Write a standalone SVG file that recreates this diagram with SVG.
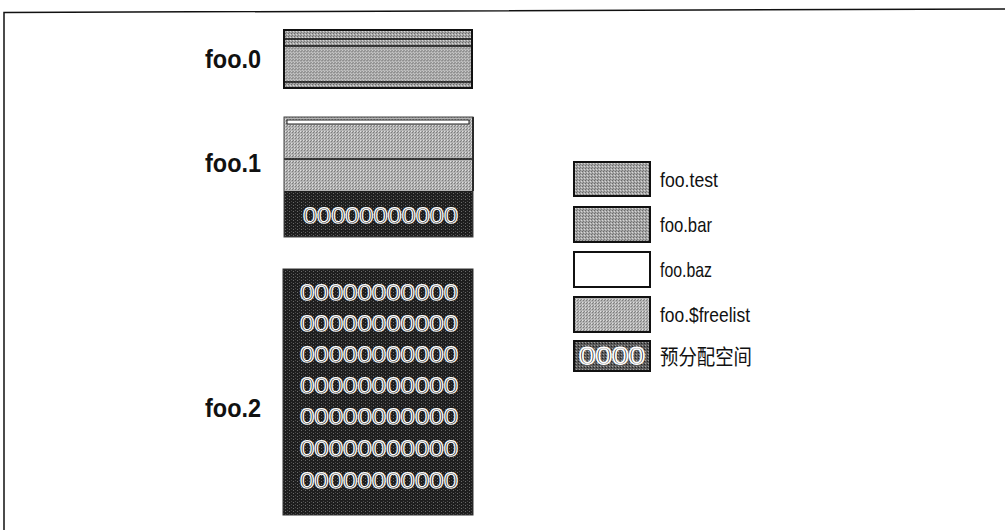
<svg xmlns="http://www.w3.org/2000/svg" width="1005" height="530" viewBox="0 0 1005 530">
<style>
.lbl{font-family:"Liberation Sans",Arial,sans-serif;font-weight:bold;font-size:25px;fill:#111}
.leg{font-family:"Liberation Sans","Noto Sans CJK SC",sans-serif;font-size:21px;fill:#111}
.zeros{font-family:"Liberation Sans",Arial,sans-serif;font-size:22px;fill:#1e1e1e;stroke:#ffffff;stroke-width:1.1;text-rendering:geometricPrecision}
.sep{stroke:#111;stroke-width:1.6}
.box{stroke:#111;stroke-width:2}
</style>
<defs>
<pattern id="dots" width="3" height="3" patternUnits="userSpaceOnUse">
<rect width="3" height="3" fill="#a6a6a6"/>
<rect x="0" y="0" width="1" height="1" fill="#6a6a6a"/>
<rect x="2" y="1" width="1" height="1" fill="#d8d8d8"/>
<rect x="1" y="2" width="1" height="1" fill="#7a7a7a"/>
</pattern>
<pattern id="dots2" width="3" height="3" patternUnits="userSpaceOnUse">
<rect width="3" height="3" fill="#b4b4b4"/>
<rect x="1" y="0" width="1" height="1" fill="#7c7c7c"/>
<rect x="0" y="2" width="1" height="1" fill="#e0e0e0"/>
<rect x="2" y="2" width="1" height="1" fill="#888"/>
</pattern>
<pattern id="dark" width="4" height="3" patternUnits="userSpaceOnUse">
<rect width="4" height="3" fill="#1e1e1e"/>
<rect x="1" y="1" width="1" height="1" fill="#6a6a6a"/>
<rect x="3" y="0" width="1" height="1" fill="#4a4a4a"/>
</pattern>
<pattern id="mid" width="3" height="3" patternUnits="userSpaceOnUse">
<rect width="3" height="3" fill="#5a5a5a"/>
<rect x="0" y="0" width="1" height="1" fill="#a0a0a0"/>
<rect x="2" y="1" width="1" height="1" fill="#222"/>
</pattern>
</defs>
<g id="frame"><polyline points="4,530 4,12.5 1005,9" fill="none" stroke="#111" stroke-width="1.5"/></g>

<g id="foo0">
<text class="lbl" x="205" y="68" textLength="56" lengthAdjust="spacingAndGlyphs">foo.0</text>
<rect x="284" y="30" width="188" height="58" fill="url(#dots)"/>
<rect x="284" y="47" width="188" height="34" fill="url(#dots2)" opacity="0.6"/>
<line class="sep" x1="284" y1="39" x2="472" y2="39"/>
<line class="sep" x1="284" y1="46" x2="472" y2="46"/>
<line class="sep" x1="284" y1="82" x2="472" y2="82"/>
<rect class="box" x="284" y="30" width="188" height="58" fill="none"/>
</g>

<g id="foo1">
<text class="lbl" x="205" y="172" textLength="56" lengthAdjust="spacingAndGlyphs">foo.1</text>
<rect x="284" y="117" width="189" height="120" fill="url(#dots2)"/>
<rect x="287" y="120" width="182" height="4" fill="#fff" stroke="#222" stroke-width="1"/>
<line class="sep" x1="284" y1="159" x2="473" y2="159"/>
<rect x="284" y="191" width="189" height="46" fill="url(#dark)"/>
<line x1="473" y1="117" x2="473" y2="191" stroke="#111" stroke-width="2"/>
<rect x="284" y="117" width="189" height="120" fill="none" stroke="#444" stroke-width="1"/>
<text class="zeros" x="303" y="223" textLength="155" lengthAdjust="spacingAndGlyphs">00000000000</text>
</g>

<g id="foo2">
<text class="lbl" x="205" y="417" textLength="56" lengthAdjust="spacingAndGlyphs">foo.2</text>
<rect x="283" y="269" width="190" height="246" fill="url(#dark)" stroke="#333" stroke-width="1"/>
<text class="zeros" x="300" y="300" textLength="158" lengthAdjust="spacingAndGlyphs">00000000000</text>
<text class="zeros" x="300" y="331" textLength="158" lengthAdjust="spacingAndGlyphs">00000000000</text>
<text class="zeros" x="300" y="362" textLength="158" lengthAdjust="spacingAndGlyphs">00000000000</text>
<text class="zeros" x="300" y="393" textLength="158" lengthAdjust="spacingAndGlyphs">00000000000</text>
<text class="zeros" x="300" y="424" textLength="158" lengthAdjust="spacingAndGlyphs">00000000000</text>
<text class="zeros" x="300" y="456" textLength="158" lengthAdjust="spacingAndGlyphs">00000000000</text>
<text class="zeros" x="300" y="488" textLength="158" lengthAdjust="spacingAndGlyphs">00000000000</text>
</g>

<g id="legend-test">
<rect class="box" x="574" y="162" width="76" height="34" fill="url(#dots)"/>
<text class="leg" x="660" y="187" textLength="58" lengthAdjust="spacingAndGlyphs">foo.test</text>
</g>
<g id="legend-bar">
<rect class="box" x="574" y="207" width="76" height="35" fill="url(#dots)"/>
<text class="leg" x="660" y="232" textLength="52" lengthAdjust="spacingAndGlyphs">foo.bar</text>
</g>
<g id="legend-baz">
<rect class="box" x="574" y="252" width="76" height="35" fill="#fff"/>
<text class="leg" x="660" y="277" textLength="52" lengthAdjust="spacingAndGlyphs">foo.baz</text>
</g>
<g id="legend-freelist">
<rect class="box" x="574" y="297" width="76" height="35" fill="url(#dots2)"/>
<text class="leg" x="660" y="322" textLength="90" lengthAdjust="spacingAndGlyphs">foo.$freelist</text>
</g>
<g id="legend-prealloc">
<rect class="box" x="574" y="341" width="76" height="30" fill="url(#mid)"/>
<text x="579" y="364" font-family="Liberation Sans,Arial,sans-serif" font-size="24" fill="#111" stroke="#fff" stroke-width="1.4" text-rendering="geometricPrecision" textLength="66" lengthAdjust="spacingAndGlyphs">0000</text>
<text class="leg" x="660" y="364" textLength="92" lengthAdjust="spacingAndGlyphs">预分配空间</text>
</g>
</svg>
